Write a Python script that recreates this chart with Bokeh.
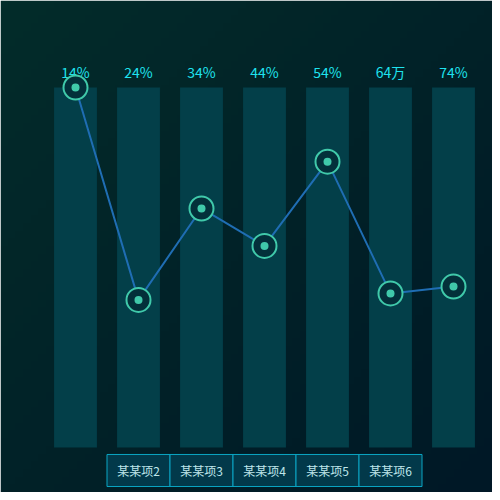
import numpy as np
from bokeh.plotting import figure
from bokeh.models import ColumnDataSource, Range1d
from bokeh.core.properties import value
from bokeh.embed import file_html
from bokeh.resources import INLINE

# ---- data ----
categories = ["某某项1", "某某项2", "某某项3", "某某项4", "某某项5", "某某项6", "某某项7"]
top_labels = ["14%", "24%", "34%", "44%", "54%", "64万", "74%"]
line_values = [100, 41, 66.4, 56, 79.4, 42.8, 44.7]
bar_max = [100, 100, 100, 100, 100, 100, 100]
shown_categories = ["某某项2", "某某项3", "某某项4", "某某项5", "某某项6"]

W, H = 492, 492
x0, x1 = -75 / 63, (W - 75) / 63
y0, y1 = -(H - 447) / 3.6, 100 + 87 / 3.6

p = figure(width=W, height=H, output_backend="svg", toolbar_location=None,
           x_range=Range1d(x0, x1), y_range=Range1d(y0, y1),
           min_border=0, border_fill_color="#022a2c", outline_line_color=None)
p.axis.visible = False
p.grid.visible = False

# gradient background
n = 64
yy, xx = np.mgrid[0:n, 0:n] / (n - 1)
t = (xx + (1 - yy)) / 2  # 0 at top-left (row n-1 is top), 1 at bottom-right
c0 = np.array([3, 44, 42])
c1 = np.array([0, 24, 38])
img = np.zeros((n, n), dtype=np.uint32)
view = img.view(dtype=np.uint8).reshape((n, n, 4))
for k in range(3):
    view[:, :, k] = (c0[k] + (c1[k] - c0[k]) * t).astype(np.uint8)
view[:, :, 3] = 255
p.image_rgba(image=[img], x=x0, y=y0, dw=x1 - x0, dh=y1 - y0)

xs = list(range(len(categories)))
src = ColumnDataSource(dict(x=xs, top=bar_max, v=line_values, lab=top_labels))

p.vbar(x="x", top="top", bottom=0, width=0.68, source=src,
       fill_color="#033f49", line_color=None)

p.text(x="x", y=104.2, text="lab", source=src, text_align="center",
       text_baseline="middle", text_color="#1fe3ef", text_font_size="14px",
       text_font=value("Noto Sans CJK SC"))

p.line(x="x", y="v", source=src, line_color="#1f6db3", line_width=2)
p.scatter(x="x", y="v", source=src, size=24, fill_color="#03303a",
          line_color="#40c9aa", line_width=2)
p.scatter(x="x", y="v", source=src, size=8, fill_color="#40c9aa", line_color=None)

# category boxes
sx = [categories.index(c) for c in shown_categories]
bsrc = ColumnDataSource(dict(x=sx, lab=shown_categories))
p.rect(x="x", y=-6.39, width=1, height=8.9, source=bsrc,
       fill_color="#02394a", line_color="#0aa6c4", line_width=1)
p.text(x="x", y=-6.39, text="lab", source=bsrc, text_align="center",
       text_baseline="middle", text_color="#bfe6ea", text_font_size="12px",
       text_font=value("Noto Sans CJK SC"))

open("out.html", "w").write(file_html(p, INLINE))
